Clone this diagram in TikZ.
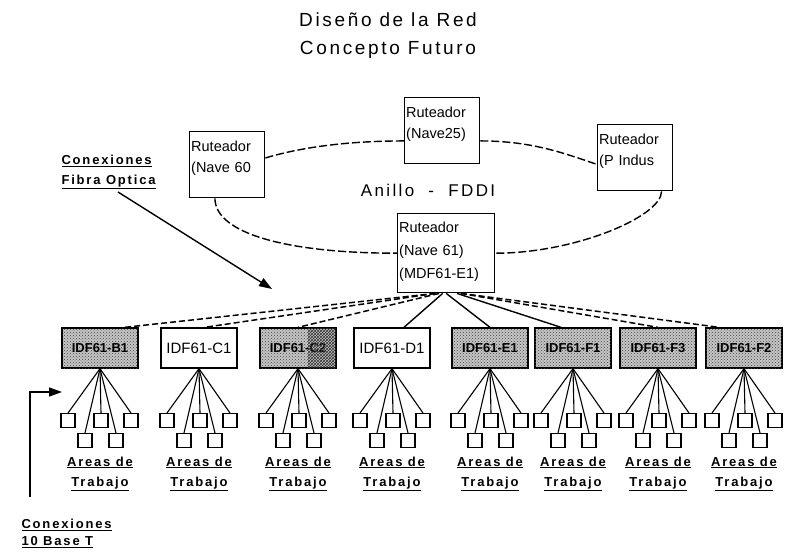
\documentclass[tikz,border=0pt]{standalone}
\usepackage{fontspec}
\setmainfont{Liberation Sans}
\newfontfamily\spacedfont[LetterSpace=14]{Liberation Sans}
\usetikzlibrary{arrows.meta,positioning,patterns,calc}

\begin{document}
\begin{tikzpicture}[
  x=1pt, y=-1pt,
  router/.style={draw, line width=1.4pt, anchor=north west, align=left, text width=72pt, inner sep=1.5pt, text height=18pt, text depth=45pt, font=\fontsize{14.5}{21}\selectfont},
  idfbox/.style={draw, line width=1.3pt, minimum width=76pt, minimum height=40pt, inner sep=1pt, font=\fontsize{15}{16}\selectfont},
  shadebox/.style={idfbox, fill=gray!45, postaction={pattern=crosshatch dots, pattern color=black!75}, font=\bfseries\fontsize{13}{16}\selectfont},
  wsq/.style={draw, line width=1.3pt, minimum size=14pt, inner sep=0pt},
  link/.style={line width=1.1pt},
  fiber/.style={line width=1.5pt, dash pattern=on 6pt off 3pt},
  ring/.style={line width=1.4pt, dash pattern=on 8pt off 3pt},
  note/.style={font=\spacedfont\bfseries\fontsize{13}{20}\selectfont, align=left},
  area/.style={font=\spacedfont\bfseries\fontsize{13}{20}\selectfont, align=center},
  pointer/.style={-{Triangle[length=13pt,width=9pt]}, line width=1.4pt}
]
\fill[white] (0,0) rectangle (787,556);
\useasboundingbox (0,0) rectangle (787,556);

% titulo
\node[font=\spacedfont\fontsize{19}{28}\selectfont, align=center] (title) at (388,36) {Diseño de la Red\\Concepto Futuro};

% anillo FDDI
\node[router] (nave60) at (189,131) {Ruteador\\(Nave 60};
\node[router] (nave25) at (404,97) {Ruteador\\(Nave25)};
\node[router] (pindus) at (597,124) {Ruteador\\(P Indus};
\node[router, text width=94pt, text height=17pt, text depth=59pt, font=\fontsize{14.5}{23}\selectfont] (mdf) at (397,213) {Ruteador\\(Nave 61)\\(MDF61-E1)};
\node[font=\spacedfont\fontsize{17}{18}\selectfont] (fddi) at (428,190) {Anillo \ - \ FDDI};

\draw[ring] (nave60.10) .. controls +(40,-12) and +(-50,0) .. (nave25.-165);
\draw[ring] (nave25.-15) .. controls +(50,0) and +(-35,-12) .. (pindus.-170);
\draw[ring] (nave60.-110) .. controls +(0,35) and +(-110,0) .. (mdf.west);
\draw[ring] (pindus.-52) .. controls +(0,25) and +(80,0) .. (mdf.east);

% IDF y areas de trabajo
\foreach \i/\cx/\lab/\kind in {1/100/IDF61-B1/shadebox, 2/199/IDF61-C1/idfbox, 3/298/IDF61-C2/shadebox, 4/392/IDF61-D1/idfbox, 5/490/IDF61-E1/shadebox, 6/573/IDF61-F1/shadebox, 7/658/IDF61-F3/shadebox, 8/744/IDF61-F2/shadebox}{
  \node[\kind] (idf\i) at (\cx,348) {\lab};
  \foreach \dx [count=\k] in {-32,1,31}{
    \node[wsq] (ws\i-t\k) at ($(idf\i.south)+(\dx,52)$) {};
    \draw[link] (idf\i.south) -- (ws\i-t\k.north);
  }
  \foreach \dx [count=\k] in {-15,16}{
    \node[wsq] (ws\i-b\k) at ($(idf\i.south)+(\dx,72)$) {};
    \draw[link] (idf\i.south) -- (ws\i-b\k.north);
  }
  \node[area] (area\i) at ($(idf\i.south)+(0,105)$) {\underline{Areas de}\\\underline{Trabajo}};
}
% mancha mas oscura en IDF61-C2
\path[pattern=crosshatch, pattern color=black!80] ($(idf3.north)+(10,1)$) rectangle ($(idf3.south east)+(-1,-1)$);

% fibra desde MDF
\draw[fiber] (mdf.-105) -- (idf1.40);
\draw[fiber] (mdf.-105) -- (idf2.75);
\draw[fiber] (mdf.-100) -- (idf3.north);
\draw[link, line width=1.4pt] (mdf.-95) -- (idf4.60);
\draw[link, line width=1.4pt] (mdf.south) -- (idf5.north);
\draw[link, line width=1.4pt] (mdf.-75) -- (idf6.120);
\draw[fiber] (mdf.-70) -- (idf7.north);
\draw[fiber] (mdf.-70) -- (idf8.140);

% notas
\node[note, anchor=west] (fibra) at (58,172) {\underline{Conexiones}\\\underline{Fibra Optica}};
\coordinate (fibtail) at (118,192);
\coordinate (fibtip) at (272,289);
\draw[pointer] (fibtail) -- (fibtip);

\node[note, anchor=north west, font=\spacedfont\bfseries\fontsize{13}{17}\selectfont] (base) at (18,516) {\underline{Conexiones}\\\underline{10 Base T}};
\coordinate (basetail) at (30,497);
\coordinate (basetip) at (62,392);
\draw[pointer] (basetail) |- (basetip);
\end{tikzpicture}
\end{document}
